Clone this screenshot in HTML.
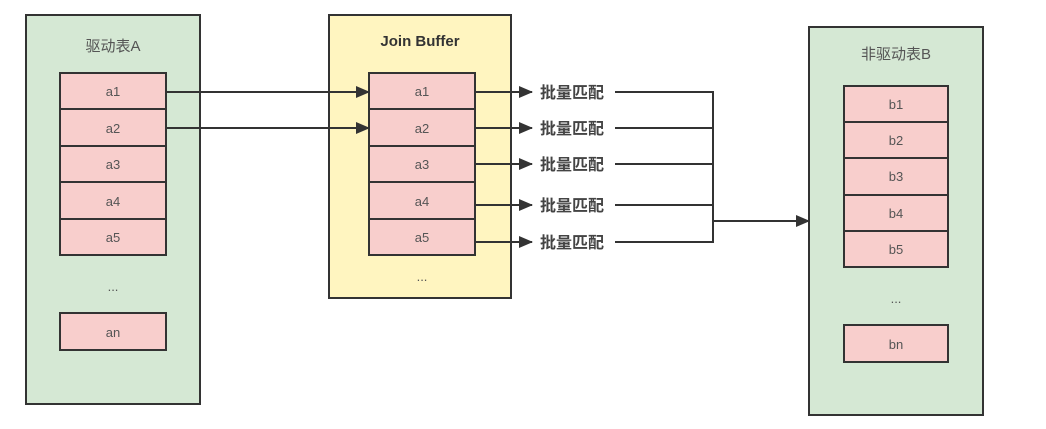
<!DOCTYPE html>
<html><head><meta charset="utf-8"><style>
html,body{margin:0;padding:0;background:#fff;width:1046px;height:429px;overflow:hidden}
text{font-family:"Liberation Sans","Noto Sans CJK SC",sans-serif;fill:#555;text-anchor:middle}
</style></head><body>
<svg width="1046" height="429" viewBox="0 0 1046 429">
<defs><marker id="ar" markerWidth="14" markerHeight="12" refX="13" refY="6" orient="auto" markerUnits="userSpaceOnUse"><path d="M0,0 L14,6 L0,12 z" fill="#333"/></marker></defs>
<g stroke="#333" stroke-width="2">
<rect x="26" y="15" width="174" height="389" fill="#d5e8d4"/>
<rect x="329" y="15" width="182" height="283" fill="#fff5c0"/>
<rect x="809" y="27" width="174" height="388" fill="#d5e8d4"/>
<g fill="#f8cecc">
<rect x="60" y="73" width="106" height="36"/><rect x="60" y="109" width="106" height="37"/><rect x="60" y="146" width="106" height="36"/><rect x="60" y="182" width="106" height="37"/><rect x="60" y="219" width="106" height="36"/><rect x="60" y="313" width="106" height="37"/>
<rect x="369" y="73" width="106" height="36"/><rect x="369" y="109" width="106" height="37"/><rect x="369" y="146" width="106" height="36"/><rect x="369" y="182" width="106" height="37"/><rect x="369" y="219" width="106" height="36"/>
<rect x="844" y="86" width="104" height="36"/><rect x="844" y="122" width="104" height="36"/><rect x="844" y="158" width="104" height="37"/><rect x="844" y="195" width="104" height="36"/><rect x="844" y="231" width="104" height="36"/><rect x="844" y="325" width="104" height="37"/>
</g>
<g fill="none">
<line x1="166" y1="92" x2="369" y2="92" marker-end="url(#ar)"/>
<line x1="166" y1="128" x2="369" y2="128" marker-end="url(#ar)"/>
<line x1="475" y1="92" x2="532" y2="92" marker-end="url(#ar)"/>
<line x1="475" y1="128" x2="532" y2="128" marker-end="url(#ar)"/>
<line x1="475" y1="164" x2="532" y2="164" marker-end="url(#ar)"/>
<line x1="475" y1="205" x2="532" y2="205" marker-end="url(#ar)"/>
<line x1="475" y1="242" x2="532" y2="242" marker-end="url(#ar)"/>
<path d="M615,92 H713 M615,128 H713 M615,164 H713 M615,205 H713 M615,242 H713 M713,91 V243"/>
<line x1="713" y1="221" x2="809" y2="221" marker-end="url(#ar)"/>
</g>
</g>
<g font-size="15">
<text x="113" y="51">驱动表A</text>
<text x="896" y="59">非驱动表B</text>
<text x="420" y="46" font-weight="bold" style="fill:#333">Join Buffer</text>
</g>
<g font-size="13">
<text x="113" y="96">a1</text><text x="113" y="133">a2</text><text x="113" y="169">a3</text><text x="113" y="206">a4</text><text x="113" y="242">a5</text><text x="113" y="291">...</text><text x="113" y="337">an</text>
<text x="422" y="96">a1</text><text x="422" y="133">a2</text><text x="422" y="169">a3</text><text x="422" y="206">a4</text><text x="422" y="242">a5</text><text x="422" y="281">...</text>
<text x="896" y="109">b1</text><text x="896" y="145">b2</text><text x="896" y="181">b3</text><text x="896" y="218">b4</text><text x="896" y="254">b5</text><text x="896" y="303">...</text><text x="896" y="349">bn</text>
</g>
<g font-size="16" font-weight="bold">
<text x="572" y="98" style="fill:#444">批量匹配</text>
<text x="572" y="134" style="fill:#444">批量匹配</text>
<text x="572" y="170" style="fill:#444">批量匹配</text>
<text x="572" y="211" style="fill:#444">批量匹配</text>
<text x="572" y="248" style="fill:#444">批量匹配</text>
</g>
</svg>
</body></html>
